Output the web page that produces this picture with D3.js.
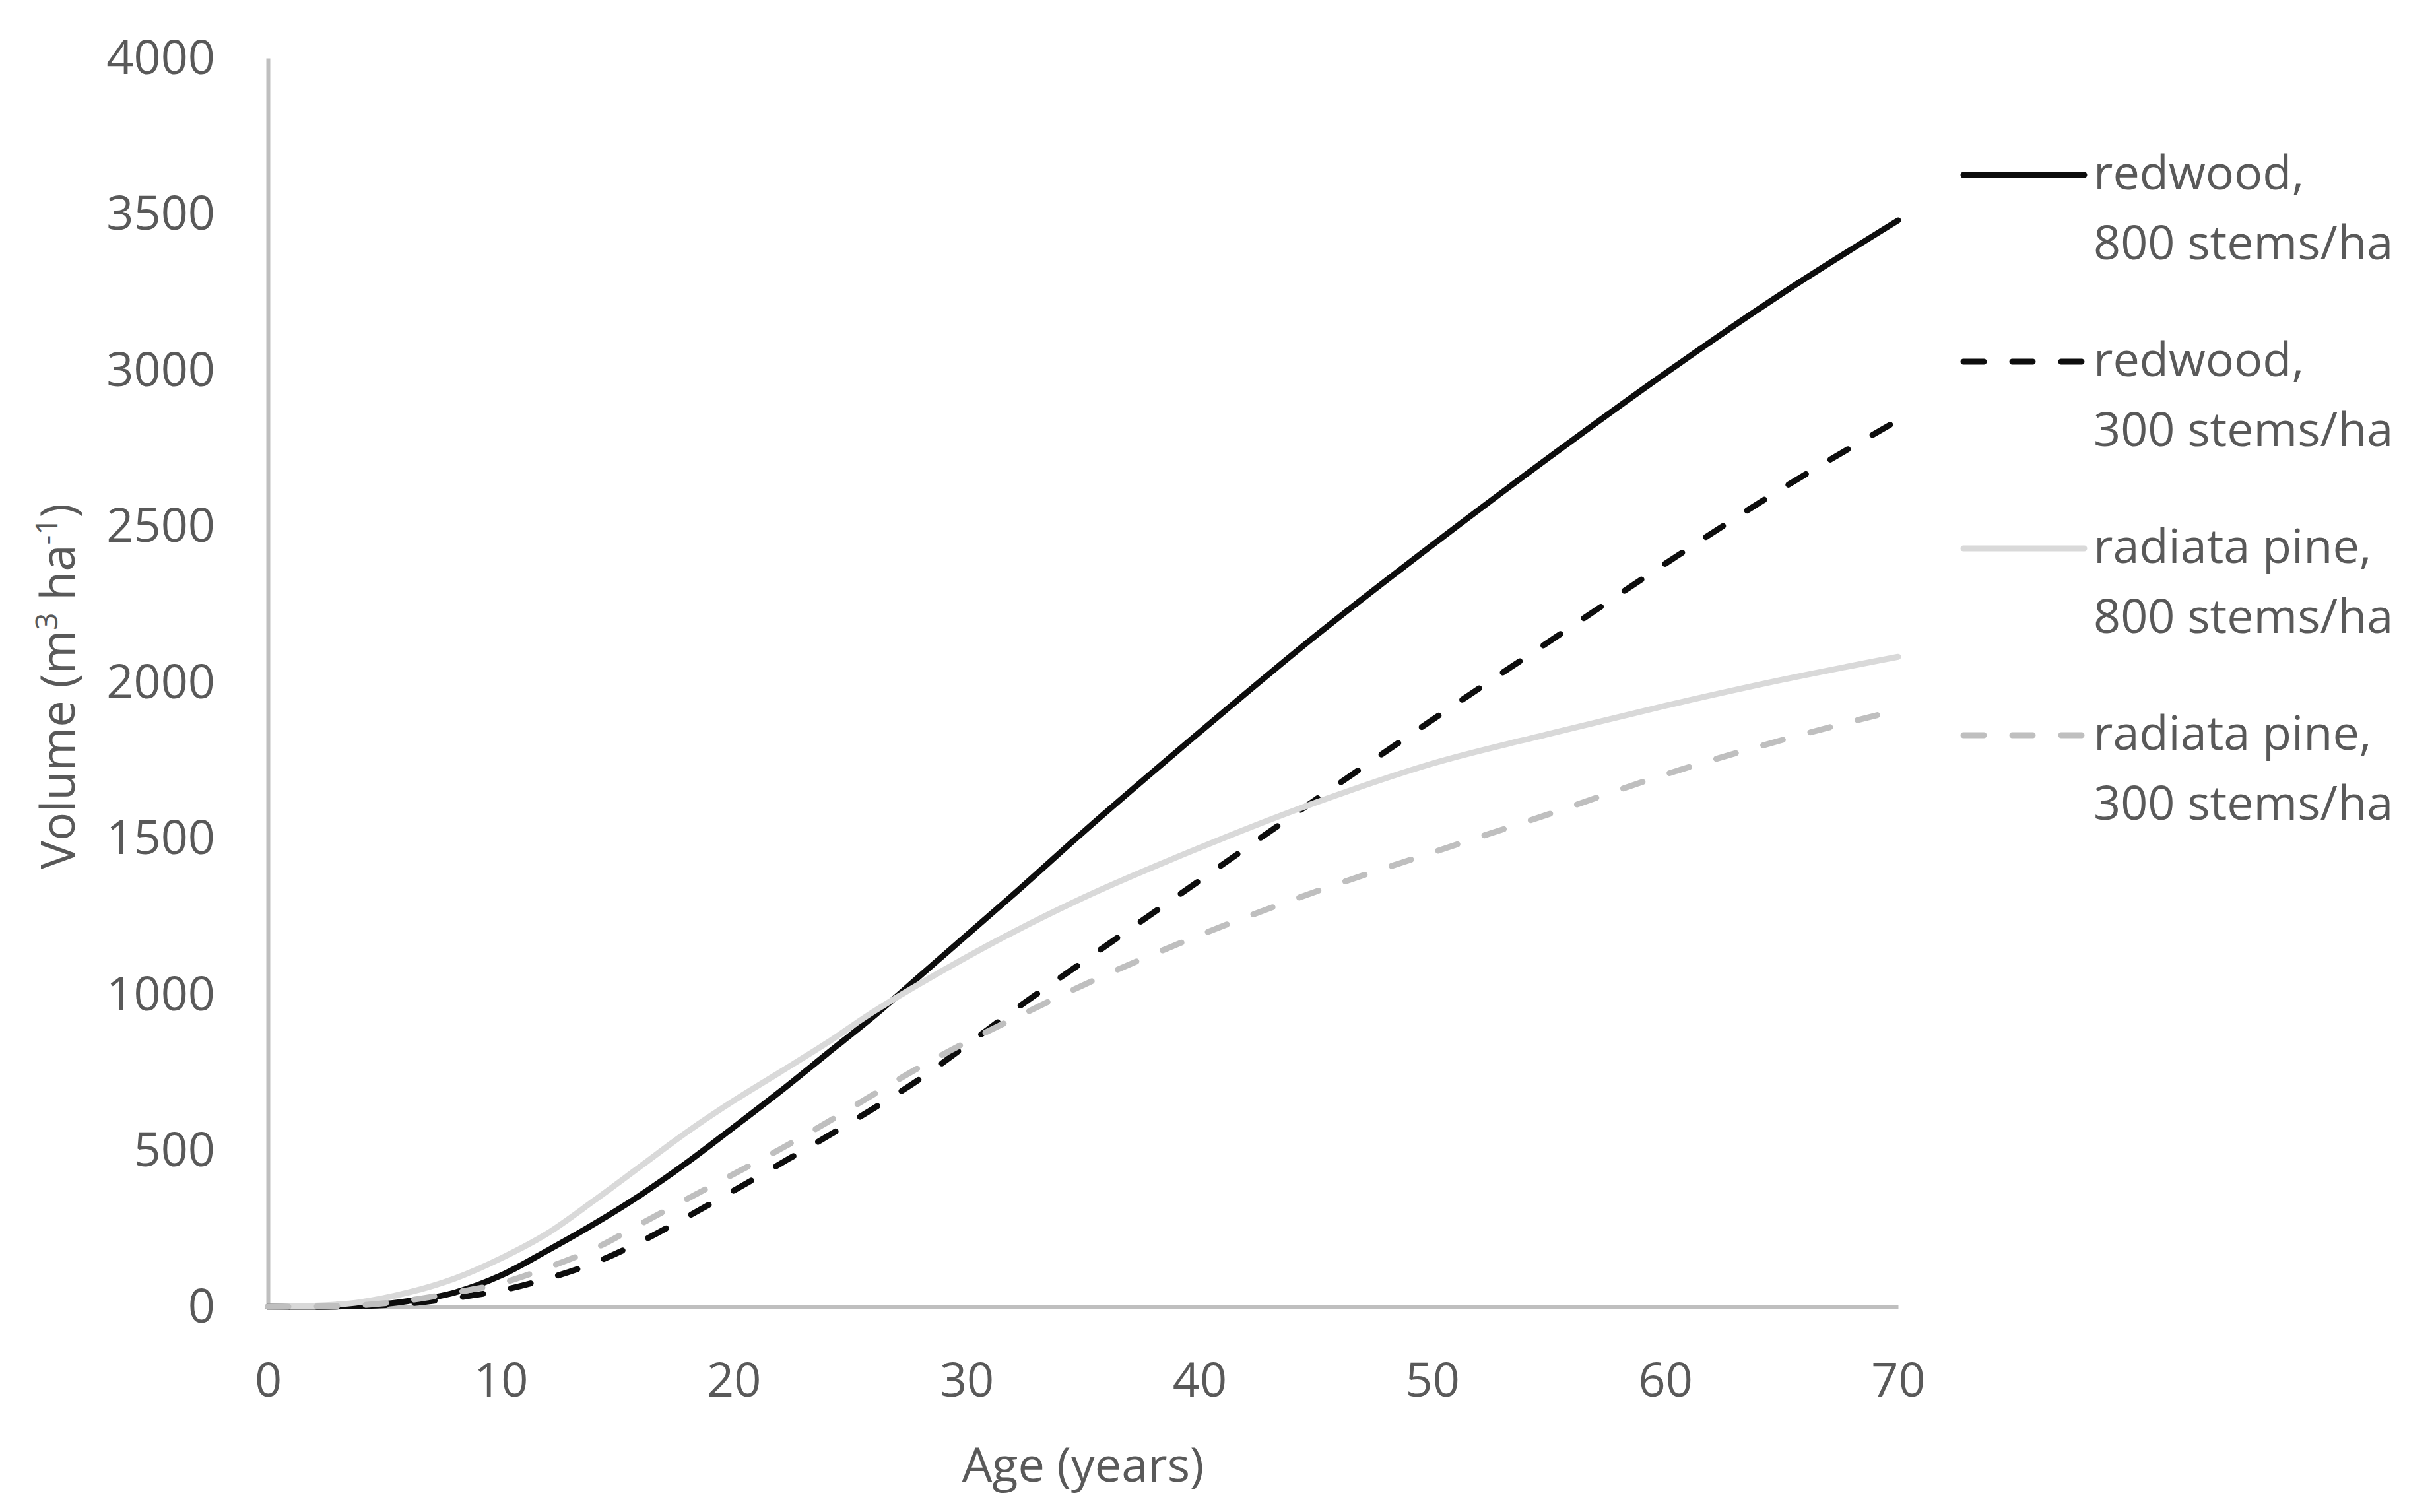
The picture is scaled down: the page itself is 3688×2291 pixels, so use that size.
<!DOCTYPE html>
<html>
<head>
<meta charset="utf-8">
<script src="https://cdn.jsdelivr.net/npm/d3@7"></script>
<style>
  html, body { margin: 0; padding: 0; background: #ffffff; }
  svg { display: block; }
  text { font-family: "Open Sans", "Noto Sans", sans-serif; fill: #595959; }
</style>
</head>
<body>
<svg id="chart" width="3688" height="2291"></svg>
<script>
// ---- data ----
const ages = [0, 2, 4, 6, 8, 10, 12, 14, 16, 18, 20, 22, 24, 26, 28, 30, 32, 35, 40, 45, 50, 55, 60, 65, 70];
const redwood800  = [0, 0, 3, 18, 45, 100, 180, 265, 358, 462, 575, 690, 810, 930, 1060, 1190, 1320, 1520, 1840, 2150, 2440, 2720, 2990, 3245, 3480];
const redwood300  = [0, 0, 2, 10, 28, 52, 90, 140, 208, 288, 372, 458, 545, 635, 730, 838, 948, 1105, 1365, 1625, 1880, 2130, 2380, 2620, 2840];
const radiata800  = [0, 3, 15, 45, 90, 155, 235, 340, 450, 560, 660, 752, 845, 945, 1035, 1120, 1200, 1310, 1470, 1615, 1740, 1835, 1925, 2008, 2082];
const radiata300  = [0, 1, 5, 20, 45, 75, 125, 185, 265, 345, 425, 505, 590, 680, 768, 848, 922, 1030, 1190, 1330, 1455, 1578, 1705, 1815, 1912];
const seriesNames = [["redwood,", "800 stems/ha"], ["redwood,", "300 stems/ha"], ["radiata pine,", "800 stems/ha"], ["radiata pine,", "300 stems/ha"]];
const seriesValues = [redwood800, redwood300, radiata800, radiata300];
const seriesColors = ["#0D0D0D", "#0D0D0D", "#D9D9D9", "#BFBFBF"];
const seriesDashed = [false, true, false, true];
const xTicks = [0, 10, 20, 30, 40, 50, 60, 70];
const yTicks = [0, 500, 1000, 1500, 2000, 2500, 3000, 3500, 4000];
const xTitle = "Age (years)";

// ---- layout ----
const svg = d3.select("#chart");
const plotLeft = 406, plotRight = 2876, plotTop = 88, plotBottom = 1980;
const x = d3.scaleLinear().domain([0, 70]).range([plotLeft, plotRight]);
const y = d3.scaleLinear().domain([0, 4000]).range([plotBottom, plotTop]);

svg.append("rect").attr("width", 3688).attr("height", 2291).attr("fill", "#ffffff");

// axes
const xAxis = svg.append("g").attr("transform", `translate(0,${plotBottom})`)
  .call(d3.axisBottom(x).tickValues(xTicks).tickSize(0).tickPadding(85).tickFormat(d3.format("d")));
const yAxis = svg.append("g").attr("transform", `translate(${plotLeft},0)`)
  .call(d3.axisLeft(y).tickValues(yTicks).tickSize(0).tickPadding(80).tickFormat(d3.format("d")));
[xAxis, yAxis].forEach(g => {
  g.select(".domain").attr("stroke", "#BFBFBF").attr("stroke-width", 6);
  g.selectAll("text").attr("font-size", 72).attr("fill", "#595959")
    .attr("font-family", '"Open Sans", "Noto Sans", sans-serif');
});

// lines
const line = d3.line().x(d => x(d[0])).y(d => y(d[1])).curve(d3.curveMonotoneX);
seriesValues.forEach((vals, i) => {
  const pts = ages.map((a, k) => [a, vals[k]]);
  svg.append("path").datum(pts)
    .attr("d", line)
    .attr("fill", "none")
    .attr("stroke", seriesColors[i])
    .attr("stroke-width", 9)
    .attr("stroke-linecap", "round")
    .attr("stroke-linejoin", "round")
    .attr("stroke-dasharray", seriesDashed[i] ? "31 43" : null);
});

// axis titles
svg.append("text").attr("x", (plotLeft + plotRight) / 2).attr("y", 2245)
  .attr("text-anchor", "middle").attr("font-size", 72).text(xTitle);

const yt = svg.append("text").attr("transform", "translate(113,1040) rotate(-90)")
  .attr("text-anchor", "middle").attr("font-size", 72);
yt.append("tspan").text("Volume (m");
yt.append("tspan").attr("font-size", 46).attr("dy", -26).text("3");
yt.append("tspan").attr("dy", 26).text(" ha");
yt.append("tspan").attr("font-size", 46).attr("dy", -26).text("-1");
yt.append("tspan").attr("dy", 26).text(")");

// legend
const legX1 = 2975, legX2 = 3158, legTextX = 3172;
seriesNames.forEach((nm, i) => {
  const ly = 265 + i * 283;
  svg.append("line").attr("x1", legX1).attr("x2", legX2).attr("y1", ly).attr("y2", ly)
    .attr("stroke", seriesColors[i]).attr("stroke-width", 9).attr("stroke-linecap", "round")
    .attr("stroke-dasharray", seriesDashed[i] ? "31 43" : null);
  const t = svg.append("text").attr("x", legTextX).attr("y", ly + 22).attr("font-size", 72);
  t.append("tspan").attr("x", legTextX).text(nm[0]);
  t.append("tspan").attr("x", legTextX).attr("dy", 106).text(nm[1]);
});
</script>
</body>
</html>
